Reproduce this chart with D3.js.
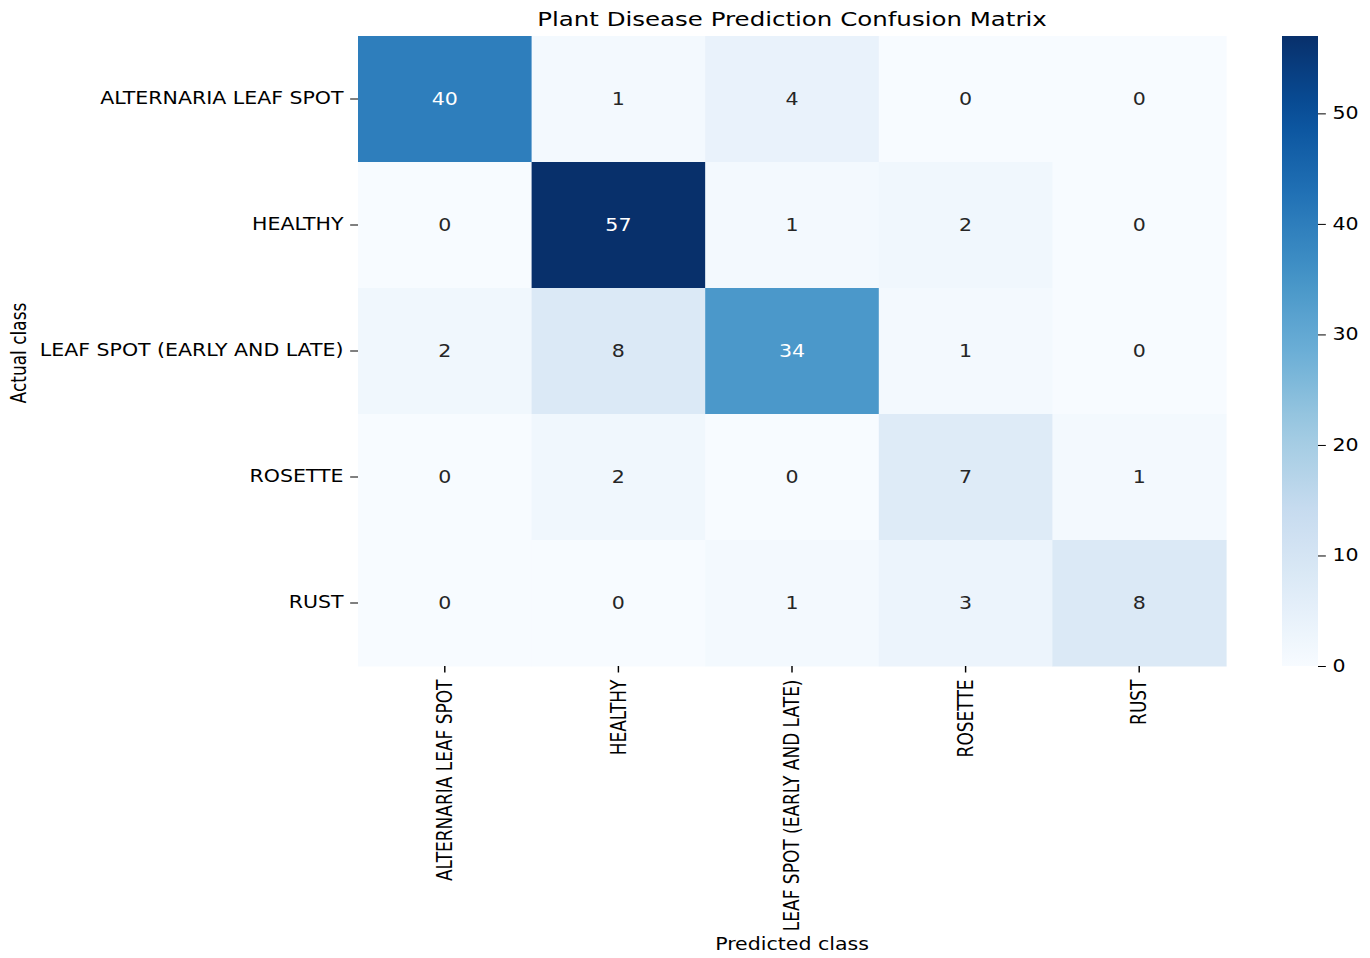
<!DOCTYPE html>
<html><head><meta charset="utf-8">
<script src="https://cdn.jsdelivr.net/npm/d3@7"></script>
<style>
html,body{margin:0;padding:0;background:#fff;}
svg{display:block;}
text{font-family:"DejaVu Sans",sans-serif;}
</style></head>
<body>
<svg id="chart"></svg>
<script>
const classes = ["ALTERNARIA LEAF SPOT","HEALTHY","LEAF SPOT (EARLY AND LATE)","ROSETTE","RUST"];
const rowAlternaria = [40,1,4,0,0];
const rowHealthy    = [0,57,1,2,0];
const rowLeafSpot   = [2,8,34,1,0];
const rowRosette    = [0,2,0,7,1];
const rowRust       = [0,0,1,3,8];
const matrix = [rowAlternaria,rowHealthy,rowLeafSpot,rowRosette,rowRust];
const colorbarTicks = [0,10,20,30,40,50];
const titleText = "Plant Disease Prediction Confusion Matrix";
const xLabel = "Predicted class";
const yLabel = "Actual class";

(function(){
const S = 1.207;               // horizontal stretch of the reference
const W = 1370, H = 958, VW = W / S;
const svg = d3.select("#chart").attr("width", W).attr("height", H)
  .attr("viewBox", `0 0 ${VW} ${H}`).attr("preserveAspectRatio","none");

const pL = 358 / S, pR = 1226 / S, pT = 36, pB = 666;
const fs = 17.0;
const vmax = d3.max(matrix.flat());
const blues = ["#f7fbff","#deebf7","#c6dbef","#9ecae1","#6baed6","#4292c6","#2171b5","#08519c","#08306b"];
const color = d3.scaleLinear().domain(blues.map((_, i) => i / (blues.length - 1) * vmax)).range(blues);

const x = d3.scaleBand().domain(classes).range([pL, pR]);
const y = d3.scaleBand().domain(classes).range([pT, pB]);

const cells = [];
matrix.forEach((row, i) => row.forEach((v, j) => cells.push({a: classes[i], p: classes[j], v})));

svg.append("g").selectAll("rect").data(cells).join("rect")
  .attr("x", d => x(d.p)).attr("y", d => y(d.a))
  .attr("width", x.bandwidth() + 0.5).attr("height", y.bandwidth() + 0.5)
  .attr("fill", d => color(d.v));

function lum(c){
  const r = d3.rgb(c);
  const f = u => { u/=255; return u <= 0.03928 ? u/12.92 : Math.pow((u+0.055)/1.055, 2.4); };
  return 0.2126*f(r.r)+0.7152*f(r.g)+0.0722*f(r.b);
}
svg.append("g").selectAll("text").data(cells).join("text")
  .attr("x", d => x(d.p) + x.bandwidth()/2).attr("y", d => y(d.a) + y.bandwidth()/2)
  .attr("dy","0.36em").attr("text-anchor","middle").attr("font-size", fs)
  .attr("fill", d => lum(color(d.v)) > 0.408 ? "#262626" : "#ffffff")
  .text(d => d.v);

// axes
const tickLen = 6.5, pad = 5.5;
const yAx = svg.append("g").attr("transform", `translate(${pL},0)`)
  .call(d3.axisLeft(y).tickSize(tickLen).tickPadding(pad));
yAx.select(".domain").remove();
yAx.selectAll("text").attr("font-size", fs).attr("fill","#000").attr("font-family","DejaVu Sans");
yAx.selectAll("line").attr("stroke","#000").attr("stroke-width",1);

const xAx = svg.append("g").attr("transform", `translate(0,${pB})`)
  .call(d3.axisBottom(x).tickSize(tickLen).tickPadding(pad));
xAx.select(".domain").remove();
xAx.selectAll("line").attr("stroke","#000").attr("stroke-width",1.2);
xAx.selectAll("text").attr("font-size", fs).attr("fill","#000").attr("font-family","DejaVu Sans")
  .attr("transform","rotate(-90)").attr("text-anchor","end")
  .attr("x", -(tickLen + pad + 1.5)).attr("y", 0).attr("dy","0.35em");

// title & labels
svg.append("text").attr("x", 792 / S).attr("y", 26).attr("text-anchor","middle")
  .attr("font-size", 20.3).attr("fill","#000").text(titleText);
svg.append("text").attr("x", 792 / S).attr("y", 950).attr("text-anchor","middle")
  .attr("font-size", fs).attr("fill","#000").text(xLabel);
svg.append("text").attr("transform", `translate(${26 / S},${(pT+pB)/2 + 2}) rotate(-90)`)
  .attr("text-anchor","middle").attr("font-size", fs).attr("fill","#000").text(yLabel);

// colorbar
const cbL = 1282 / S, cbR = 1318 / S;
const cy = d3.scaleLinear().domain([0, vmax]).range([pB, pT]);
const grad = svg.append("defs").append("linearGradient").attr("id","cbgrad")
  .attr("gradientUnits","userSpaceOnUse").attr("x1",0).attr("x2",0).attr("y1",pB).attr("y2",pT);
d3.range(0, 1.0001, 0.05).forEach(t => grad.append("stop").attr("offset", t).attr("stop-color", color(t * vmax)));
svg.append("rect").attr("x", cbL).attr("y", pT).attr("width", cbR - cbL).attr("height", pB - pT)
  .attr("fill","url(#cbgrad)");
const cAx = svg.append("g").attr("transform", `translate(${cbR},0)`)
  .call(d3.axisRight(cy).tickValues(colorbarTicks).tickSize(tickLen).tickPadding(pad));
cAx.select(".domain").remove();
cAx.selectAll("line").attr("stroke","#000");
cAx.selectAll("text").attr("font-size", fs).attr("fill","#000").attr("font-family","DejaVu Sans");
})();
</script>
</body></html>
